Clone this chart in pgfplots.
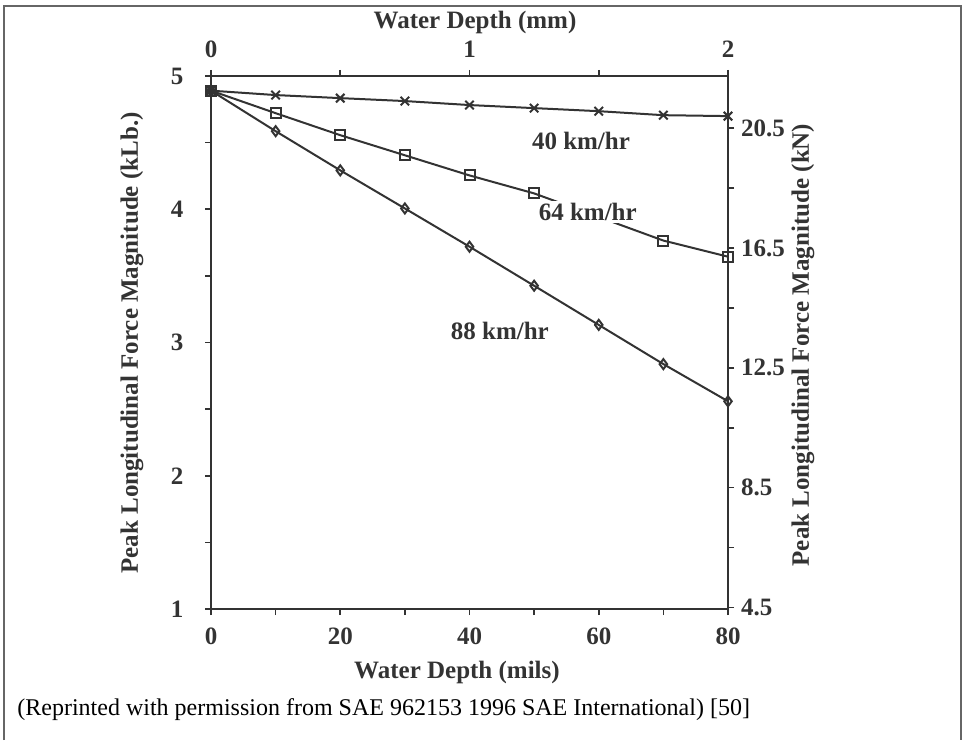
\documentclass[border=0pt]{standalone}
\usepackage{fontspec}
\setmainfont{Liberation Serif}
\usepackage{pgfplots}
\pgfplotsset{compat=1.18}
\definecolor{ink}{HTML}{333333}
\definecolor{framec}{HTML}{666666}

\newcommand{\lbl}{\bfseries\fontsize{12.5}{14}\selectfont}

\begin{document}
\begin{tikzpicture}[x=1pt,y=1pt]
\useasboundingbox (0,0) rectangle (481.5,370);
\draw[framec, line width=1pt] (2,0) -- (2,367) -- (480.5,367) -- (480.5,0);

\pgfplotsset{
  every axis/.append style={
    width=258.5pt, height=266.5pt, scale only axis,
    at={(105.5pt,65.5pt)}, anchor=south west,
    tick align=outside,
    major tick length=3pt, minor tick length=3pt,
    tick style={ink, line width=0.8pt},
    ticklabel style={font=\lbl, text=ink},
    /pgf/number format/assume math mode=true,
  }
}

% kLb against mils
\begin{axis}[
  xmin=0, xmax=80, ymin=1, ymax=5,
  axis line style={ink, line width=1pt},
  tick pos=left,
  xtick={0,20,40,60,80}, minor xtick={10,30,50,70},
  ytick={1,2,3,4,5}, minor ytick={1.5,2.5,3.5,4.5},
  yticklabel style={xshift=-7.3pt},
  xticklabel style={yshift=-3pt},
  clip=false,
]
% 40 km/hr
\addplot[ink, line width=1pt, mark=x, mark size=3pt] coordinates {
  (0,4.89) (10,4.857) (20,4.834) (30,4.812) (40,4.782)
  (50,4.759) (60,4.736) (70,4.706) (80,4.699)
};
% 64 km/hr
\addplot[ink, line width=1pt, mark=square, mark size=2.5pt] coordinates {
  (0,4.89) (10,4.721) (20,4.556) (30,4.405) (40,4.254)
  (50,4.119) (70,3.765) (80,3.644)
};
% 88 km/hr
\addplot[ink, line width=1pt, mark=diamond, mark size=2.5pt] coordinates {
  (0,4.89) (10,4.586) (20,4.292) (30,4.006) (40,3.719)
  (50,3.426) (60,3.132) (70,2.838) (80,2.559)
};
\addplot[ink, only marks, mark=triangle*, mark size=3pt] coordinates {(0,4.89)};

\node[font=\lbl, text=ink] at (axis cs:57.25,4.51) {40 km/hr};
\node[font=\lbl, text=ink, fill=white, inner sep=1pt] at (axis cs:58.3,3.98) {64 km/hr};
\node[font=\lbl, text=ink] at (axis cs:44.7,3.087) {88 km/hr};
\end{axis}

% kN against mm
\begin{axis}[
  xmin=0, xmax=2, ymin=4.448222, ymax=22.24111,
  axis line style={draw=none},
  xtick pos=right, ytick pos=right,
  xticklabel pos=right, yticklabel pos=right,
  xtick={0,1,2}, minor xtick={0.5,1.5},
  ytick={4.5,8.5,12.5,16.5,20.5}, minor ytick={6.5,10.5,14.5,18.5},
  yticklabel style={/pgf/number format/.cd, fixed, fixed zerofill, precision=1},
  xticklabel style={yshift=2.5pt},
]
\end{axis}

\node[font=\lbl, text=ink] at (228.5,34) {Water Depth (mils)};
\node[font=\lbl, text=ink] at (237.5,359) {Water Depth (mm)};
\node[font=\lbl, text=ink, rotate=90] at (66,198.5) {Peak Longitudinal Force Magnitude (kLb.)};
\node[font=\lbl, text=ink, rotate=90] at (401.5,197.5) {Peak Longitudinal Force Magnitude (kN)};
\node[anchor=west, inner sep=0pt, font=\fontsize{12}{14}\selectfont] at (8.5,15)
  {(Reprinted with permission from SAE 962153 1996 SAE International) [50]};
\end{tikzpicture}
\end{document}
